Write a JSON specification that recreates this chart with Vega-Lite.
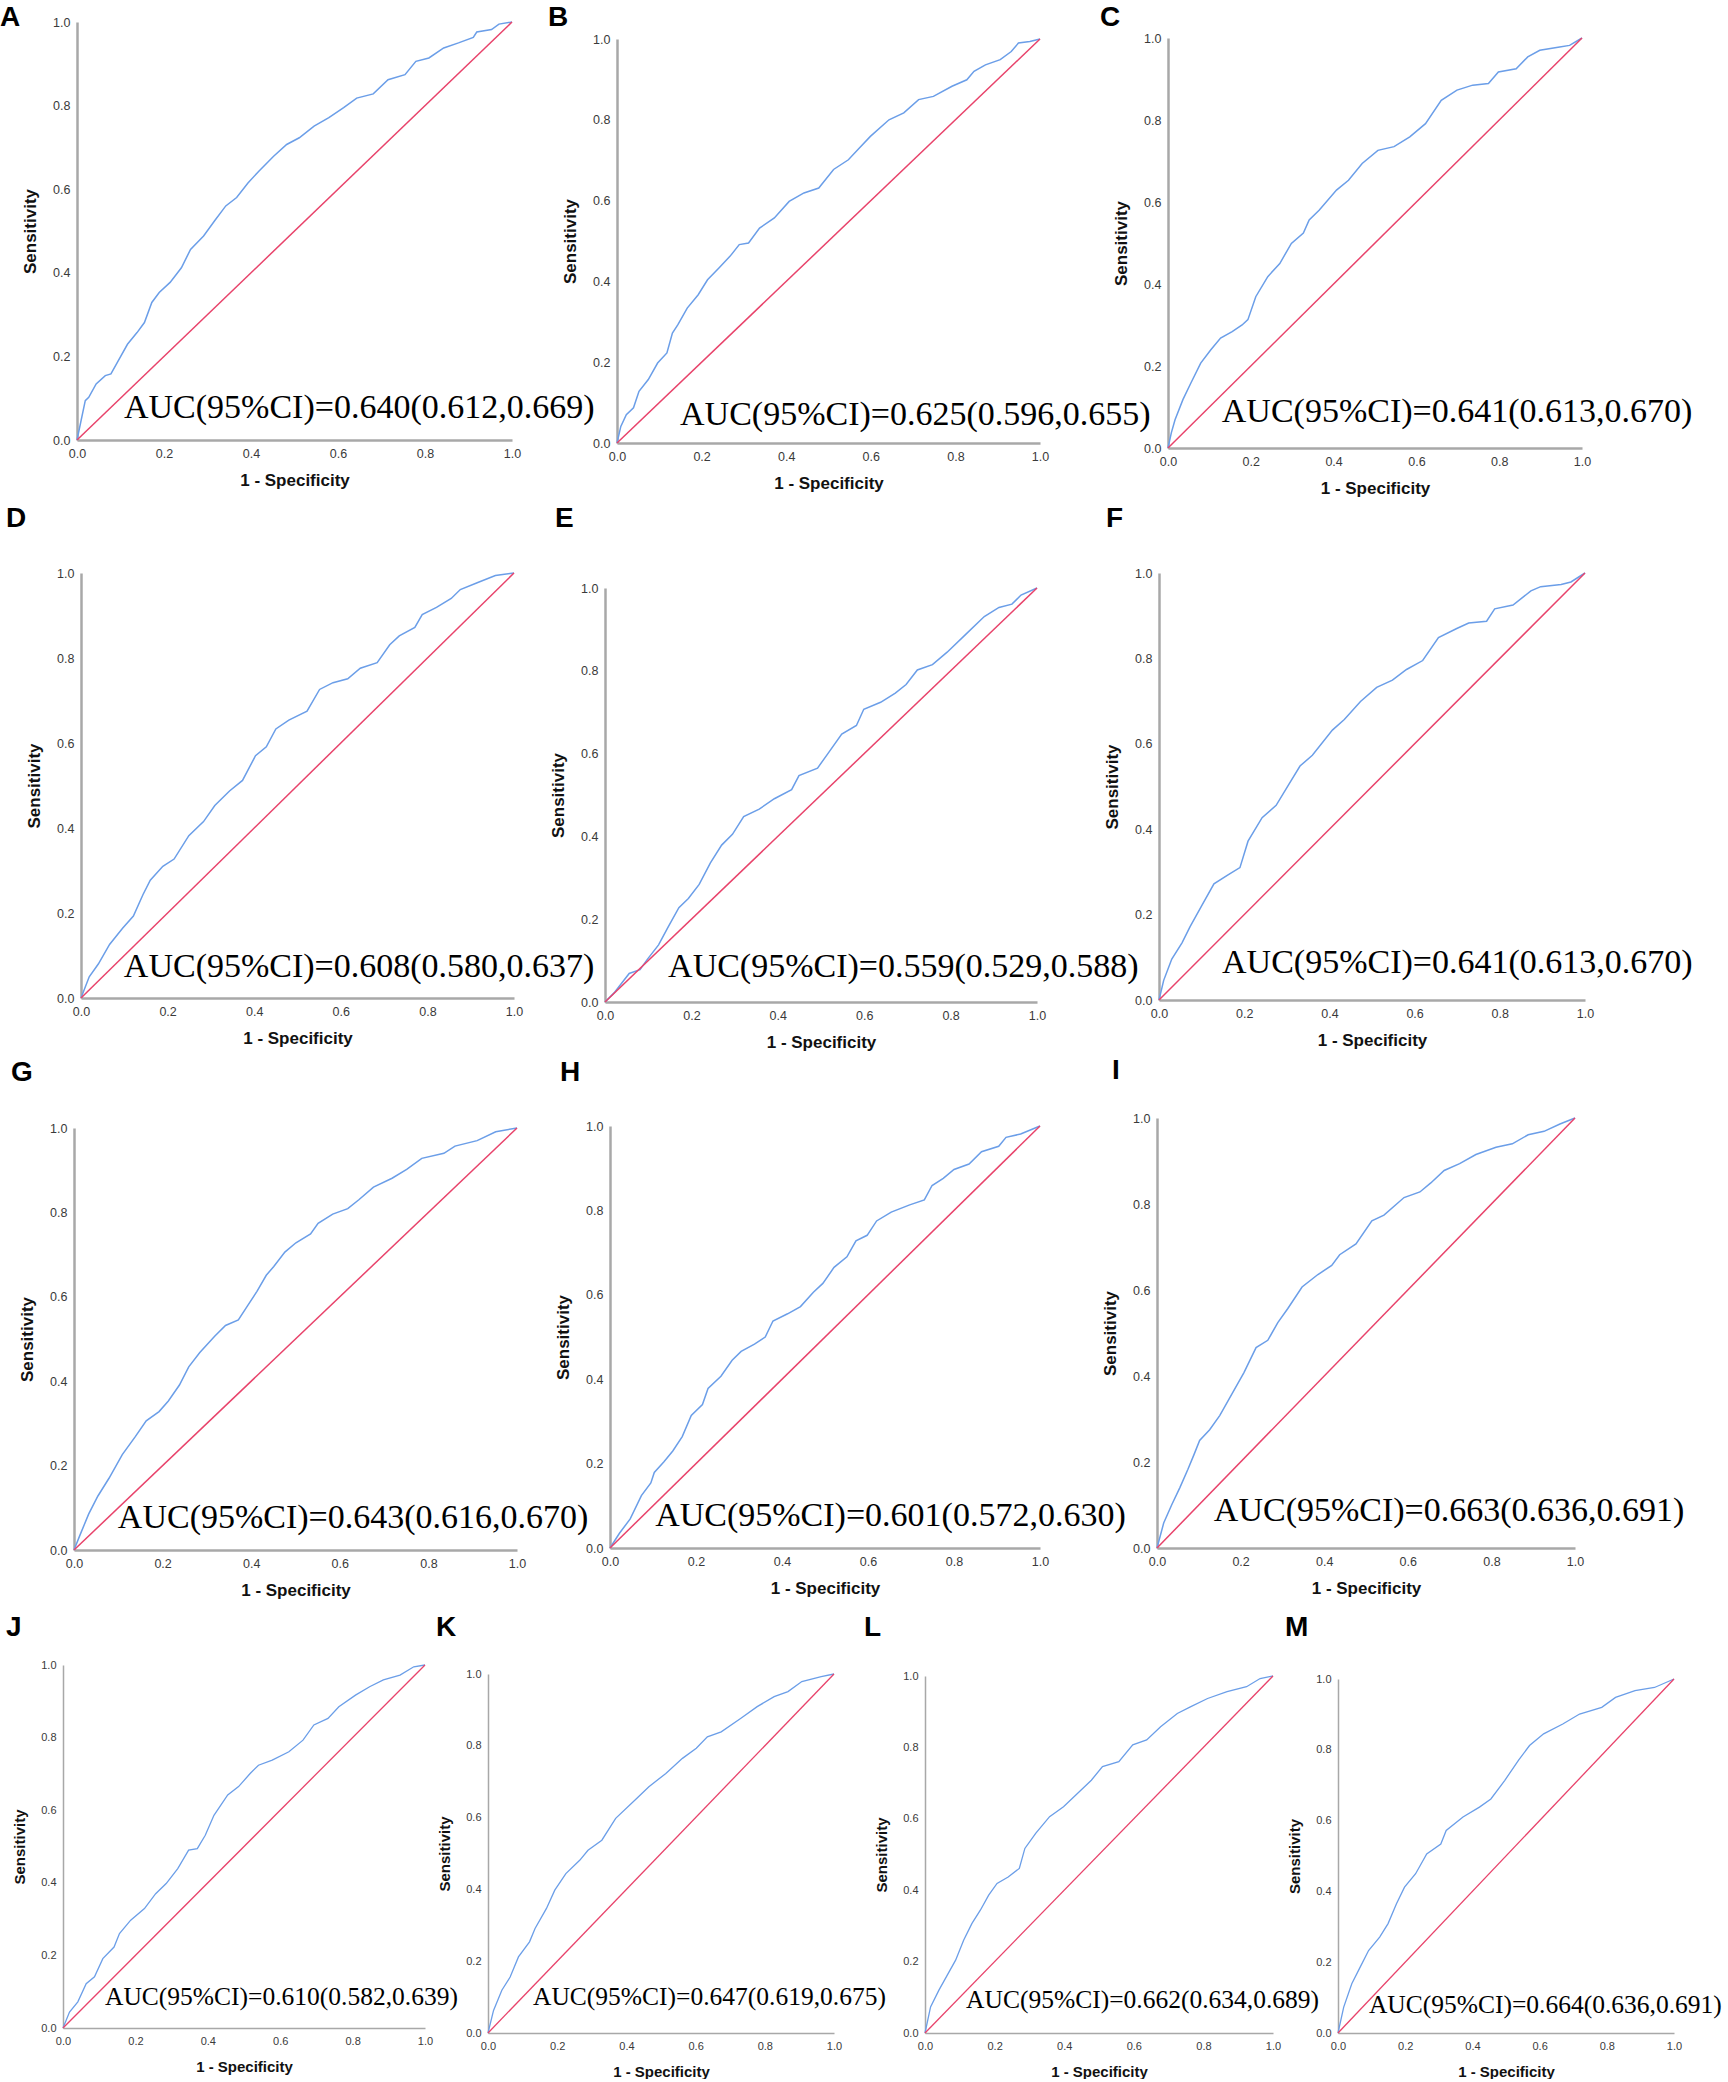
{
"$schema": "https://vega.github.io/schema/vega-lite/v6.json",
"padding": 0,
"autosize": {"type": "pad"},
"background": "white",
"columns": 4,
"spacing": 0,
"bounds": "flush",
"align": "each",
"config": {
  "view": {"stroke": null},
  "axis": {"grid": false, "ticks": false, "tickSize": 0, "domainColor": "#a8a8a8", "domainWidth": 2.5, "labelFont": "Liberation Sans", "labelFontSize": 12.5, "labelColor": "#3a3a3a", "labelPadding": 7, "labelFlush": false, "labelOverlap": false, "titleFont": "Liberation Sans", "titleFontSize": 17, "titleFontWeight": "bold", "titleColor": "#111111", "titlePadding": 13},
  "title": {"anchor": "start", "frame": "group", "font": "Liberation Sans", "fontSize": 28, "fontWeight": "bold", "color": "#000000", "offset": 0}
},
"datasets": {
"auc": [
{"panel":"A","label":"AUC(95%CI)=0.640(0.612,0.669)"},
{"panel":"B","label":"AUC(95%CI)=0.625(0.596,0.655)"},
{"panel":"C","label":"AUC(95%CI)=0.641(0.613,0.670)"},
{"panel":"D","label":"AUC(95%CI)=0.608(0.580,0.637)"},
{"panel":"E","label":"AUC(95%CI)=0.559(0.529,0.588)"},
{"panel":"F","label":"AUC(95%CI)=0.641(0.613,0.670)"},
{"panel":"G","label":"AUC(95%CI)=0.643(0.616,0.670)"},
{"panel":"H","label":"AUC(95%CI)=0.601(0.572,0.630)"},
{"panel":"I","label":"AUC(95%CI)=0.663(0.636,0.691)"},
{"panel":"J","label":"AUC(95%CI)=0.610(0.582,0.639)"},
{"panel":"K","label":"AUC(95%CI)=0.647(0.619,0.675)"},
{"panel":"L","label":"AUC(95%CI)=0.662(0.634,0.689)"},
{"panel":"M","label":"AUC(95%CI)=0.664(0.636,0.691)"}
],
"roc": [
{"panel":"A","fpr":0,"tpr":0},{"panel":"A","fpr":0.019,"tpr":0.094},{"panel":"A","fpr":0.027,"tpr":0.102},{"panel":"A","fpr":0.044,"tpr":0.134},{"panel":"A","fpr":0.065,"tpr":0.154},{"panel":"A","fpr":0.078,"tpr":0.158},{"panel":"A","fpr":0.095,"tpr":0.19},{"panel":"A","fpr":0.116,"tpr":0.229},{"panel":"A","fpr":0.138,"tpr":0.257},{"panel":"A","fpr":0.155,"tpr":0.281},{"panel":"A","fpr":0.172,"tpr":0.329},{"panel":"A","fpr":0.189,"tpr":0.353},{"panel":"A","fpr":0.214,"tpr":0.377},{"panel":"A","fpr":0.24,"tpr":0.412},{"panel":"A","fpr":0.261,"tpr":0.456},{"panel":"A","fpr":0.291,"tpr":0.488},{"panel":"A","fpr":0.316,"tpr":0.524},{"panel":"A","fpr":0.342,"tpr":0.56},{"panel":"A","fpr":0.367,"tpr":0.58},{"panel":"A","fpr":0.393,"tpr":0.615},{"panel":"A","fpr":0.418,"tpr":0.643},{"panel":"A","fpr":0.452,"tpr":0.679},{"panel":"A","fpr":0.482,"tpr":0.707},{"panel":"A","fpr":0.511,"tpr":0.723},{"panel":"A","fpr":0.545,"tpr":0.751},{"panel":"A","fpr":0.579,"tpr":0.771},{"panel":"A","fpr":0.613,"tpr":0.795},{"panel":"A","fpr":0.643,"tpr":0.818},{"panel":"A","fpr":0.681,"tpr":0.828},{"panel":"A","fpr":0.715,"tpr":0.862},{"panel":"A","fpr":0.754,"tpr":0.874},{"panel":"A","fpr":0.779,"tpr":0.906},{"panel":"A","fpr":0.809,"tpr":0.914},{"panel":"A","fpr":0.843,"tpr":0.938},{"panel":"A","fpr":0.877,"tpr":0.95},{"panel":"A","fpr":0.911,"tpr":0.963},{"panel":"A","fpr":0.919,"tpr":0.976},{"panel":"A","fpr":0.953,"tpr":0.982},{"panel":"A","fpr":0.97,"tpr":0.995},{"panel":"A","fpr":1,"tpr":1},
{"panel":"B","fpr":0,"tpr":0},{"panel":"B","fpr":0.009,"tpr":0.041},{"panel":"B","fpr":0.022,"tpr":0.07},{"panel":"B","fpr":0.039,"tpr":0.087},{"panel":"B","fpr":0.052,"tpr":0.128},{"panel":"B","fpr":0.074,"tpr":0.157},{"panel":"B","fpr":0.096,"tpr":0.198},{"panel":"B","fpr":0.118,"tpr":0.223},{"panel":"B","fpr":0.131,"tpr":0.272},{"panel":"B","fpr":0.144,"tpr":0.293},{"panel":"B","fpr":0.166,"tpr":0.334},{"panel":"B","fpr":0.192,"tpr":0.367},{"panel":"B","fpr":0.214,"tpr":0.404},{"panel":"B","fpr":0.241,"tpr":0.433},{"panel":"B","fpr":0.267,"tpr":0.462},{"panel":"B","fpr":0.289,"tpr":0.491},{"panel":"B","fpr":0.311,"tpr":0.495},{"panel":"B","fpr":0.337,"tpr":0.532},{"panel":"B","fpr":0.372,"tpr":0.557},{"panel":"B","fpr":0.407,"tpr":0.598},{"panel":"B","fpr":0.442,"tpr":0.619},{"panel":"B","fpr":0.477,"tpr":0.631},{"panel":"B","fpr":0.512,"tpr":0.677},{"panel":"B","fpr":0.547,"tpr":0.701},{"panel":"B","fpr":0.573,"tpr":0.73},{"panel":"B","fpr":0.599,"tpr":0.759},{"panel":"B","fpr":0.643,"tpr":0.8},{"panel":"B","fpr":0.678,"tpr":0.817},{"panel":"B","fpr":0.713,"tpr":0.85},{"panel":"B","fpr":0.748,"tpr":0.858},{"panel":"B","fpr":0.792,"tpr":0.883},{"panel":"B","fpr":0.827,"tpr":0.899},{"panel":"B","fpr":0.844,"tpr":0.92},{"panel":"B","fpr":0.871,"tpr":0.936},{"panel":"B","fpr":0.906,"tpr":0.949},{"panel":"B","fpr":0.932,"tpr":0.969},{"panel":"B","fpr":0.949,"tpr":0.99},{"panel":"B","fpr":0.976,"tpr":0.994},{"panel":"B","fpr":1,"tpr":1},
{"panel":"C","fpr":0,"tpr":0},{"panel":"C","fpr":0.008,"tpr":0.037},{"panel":"C","fpr":0.017,"tpr":0.069},{"panel":"C","fpr":0.036,"tpr":0.118},{"panel":"C","fpr":0.055,"tpr":0.158},{"panel":"C","fpr":0.079,"tpr":0.207},{"panel":"C","fpr":0.103,"tpr":0.239},{"panel":"C","fpr":0.127,"tpr":0.268},{"panel":"C","fpr":0.155,"tpr":0.284},{"panel":"C","fpr":0.179,"tpr":0.3},{"panel":"C","fpr":0.193,"tpr":0.313},{"panel":"C","fpr":0.212,"tpr":0.369},{"panel":"C","fpr":0.241,"tpr":0.418},{"panel":"C","fpr":0.27,"tpr":0.45},{"panel":"C","fpr":0.298,"tpr":0.499},{"panel":"C","fpr":0.327,"tpr":0.524},{"panel":"C","fpr":0.341,"tpr":0.556},{"panel":"C","fpr":0.365,"tpr":0.58},{"panel":"C","fpr":0.407,"tpr":0.629},{"panel":"C","fpr":0.436,"tpr":0.653},{"panel":"C","fpr":0.469,"tpr":0.694},{"panel":"C","fpr":0.507,"tpr":0.726},{"panel":"C","fpr":0.546,"tpr":0.735},{"panel":"C","fpr":0.584,"tpr":0.759},{"panel":"C","fpr":0.622,"tpr":0.791},{"panel":"C","fpr":0.66,"tpr":0.848},{"panel":"C","fpr":0.698,"tpr":0.873},{"panel":"C","fpr":0.736,"tpr":0.885},{"panel":"C","fpr":0.774,"tpr":0.889},{"panel":"C","fpr":0.798,"tpr":0.917},{"panel":"C","fpr":0.841,"tpr":0.925},{"panel":"C","fpr":0.869,"tpr":0.954},{"panel":"C","fpr":0.898,"tpr":0.97},{"panel":"C","fpr":0.946,"tpr":0.978},{"panel":"C","fpr":0.97,"tpr":0.982},{"panel":"C","fpr":1,"tpr":1},
{"panel":"D","fpr":0,"tpr":0},{"panel":"D","fpr":0.019,"tpr":0.05},{"panel":"D","fpr":0.04,"tpr":0.08},{"panel":"D","fpr":0.066,"tpr":0.126},{"panel":"D","fpr":0.096,"tpr":0.164},{"panel":"D","fpr":0.121,"tpr":0.193},{"panel":"D","fpr":0.143,"tpr":0.243},{"panel":"D","fpr":0.16,"tpr":0.277},{"panel":"D","fpr":0.189,"tpr":0.31},{"panel":"D","fpr":0.215,"tpr":0.327},{"panel":"D","fpr":0.249,"tpr":0.382},{"panel":"D","fpr":0.283,"tpr":0.415},{"panel":"D","fpr":0.309,"tpr":0.453},{"panel":"D","fpr":0.343,"tpr":0.487},{"panel":"D","fpr":0.373,"tpr":0.512},{"panel":"D","fpr":0.403,"tpr":0.57},{"panel":"D","fpr":0.428,"tpr":0.591},{"panel":"D","fpr":0.45,"tpr":0.633},{"panel":"D","fpr":0.48,"tpr":0.654},{"panel":"D","fpr":0.522,"tpr":0.675},{"panel":"D","fpr":0.551,"tpr":0.726},{"panel":"D","fpr":0.582,"tpr":0.742},{"panel":"D","fpr":0.616,"tpr":0.751},{"panel":"D","fpr":0.645,"tpr":0.776},{"panel":"D","fpr":0.684,"tpr":0.789},{"panel":"D","fpr":0.713,"tpr":0.831},{"panel":"D","fpr":0.735,"tpr":0.852},{"panel":"D","fpr":0.771,"tpr":0.872},{"panel":"D","fpr":0.788,"tpr":0.902},{"panel":"D","fpr":0.821,"tpr":0.919},{"panel":"D","fpr":0.855,"tpr":0.94},{"panel":"D","fpr":0.876,"tpr":0.961},{"panel":"D","fpr":0.915,"tpr":0.977},{"panel":"D","fpr":0.957,"tpr":0.994},{"panel":"D","fpr":1,"tpr":1},
{"panel":"E","fpr":0,"tpr":0},{"panel":"E","fpr":0.021,"tpr":0.022},{"panel":"E","fpr":0.056,"tpr":0.069},{"panel":"E","fpr":0.081,"tpr":0.078},{"panel":"E","fpr":0.098,"tpr":0.103},{"panel":"E","fpr":0.124,"tpr":0.138},{"panel":"E","fpr":0.146,"tpr":0.181},{"panel":"E","fpr":0.171,"tpr":0.228},{"panel":"E","fpr":0.193,"tpr":0.25},{"panel":"E","fpr":0.218,"tpr":0.284},{"panel":"E","fpr":0.244,"tpr":0.336},{"panel":"E","fpr":0.27,"tpr":0.379},{"panel":"E","fpr":0.295,"tpr":0.405},{"panel":"E","fpr":0.321,"tpr":0.448},{"panel":"E","fpr":0.357,"tpr":0.466},{"panel":"E","fpr":0.392,"tpr":0.491},{"panel":"E","fpr":0.432,"tpr":0.513},{"panel":"E","fpr":0.449,"tpr":0.547},{"panel":"E","fpr":0.492,"tpr":0.565},{"panel":"E","fpr":0.518,"tpr":0.603},{"panel":"E","fpr":0.548,"tpr":0.647},{"panel":"E","fpr":0.582,"tpr":0.668},{"panel":"E","fpr":0.599,"tpr":0.707},{"panel":"E","fpr":0.638,"tpr":0.724},{"panel":"E","fpr":0.672,"tpr":0.746},{"panel":"E","fpr":0.697,"tpr":0.767},{"panel":"E","fpr":0.723,"tpr":0.802},{"panel":"E","fpr":0.758,"tpr":0.815},{"panel":"E","fpr":0.792,"tpr":0.845},{"panel":"E","fpr":0.835,"tpr":0.888},{"panel":"E","fpr":0.878,"tpr":0.931},{"panel":"E","fpr":0.912,"tpr":0.953},{"panel":"E","fpr":0.942,"tpr":0.961},{"panel":"E","fpr":0.963,"tpr":0.983},{"panel":"E","fpr":1,"tpr":1},
{"panel":"F","fpr":0,"tpr":0},{"panel":"F","fpr":0.011,"tpr":0.046},{"panel":"F","fpr":0.03,"tpr":0.096},{"panel":"F","fpr":0.054,"tpr":0.134},{"panel":"F","fpr":0.073,"tpr":0.172},{"panel":"F","fpr":0.101,"tpr":0.222},{"panel":"F","fpr":0.129,"tpr":0.272},{"panel":"F","fpr":0.162,"tpr":0.293},{"panel":"F","fpr":0.19,"tpr":0.31},{"panel":"F","fpr":0.209,"tpr":0.372},{"panel":"F","fpr":0.242,"tpr":0.427},{"panel":"F","fpr":0.275,"tpr":0.456},{"panel":"F","fpr":0.303,"tpr":0.502},{"panel":"F","fpr":0.331,"tpr":0.548},{"panel":"F","fpr":0.36,"tpr":0.573},{"panel":"F","fpr":0.407,"tpr":0.632},{"panel":"F","fpr":0.435,"tpr":0.657},{"panel":"F","fpr":0.473,"tpr":0.699},{"panel":"F","fpr":0.511,"tpr":0.732},{"panel":"F","fpr":0.548,"tpr":0.749},{"panel":"F","fpr":0.581,"tpr":0.774},{"panel":"F","fpr":0.619,"tpr":0.795},{"panel":"F","fpr":0.656,"tpr":0.849},{"panel":"F","fpr":0.699,"tpr":0.87},{"panel":"F","fpr":0.727,"tpr":0.883},{"panel":"F","fpr":0.769,"tpr":0.887},{"panel":"F","fpr":0.788,"tpr":0.916},{"panel":"F","fpr":0.831,"tpr":0.925},{"panel":"F","fpr":0.873,"tpr":0.958},{"panel":"F","fpr":0.896,"tpr":0.968},{"panel":"F","fpr":0.944,"tpr":0.973},{"panel":"F","fpr":0.967,"tpr":0.979},{"panel":"F","fpr":1,"tpr":1},
{"panel":"G","fpr":0,"tpr":0},{"panel":"G","fpr":0.013,"tpr":0.034},{"panel":"G","fpr":0.033,"tpr":0.085},{"panel":"G","fpr":0.054,"tpr":0.128},{"panel":"G","fpr":0.079,"tpr":0.17},{"panel":"G","fpr":0.109,"tpr":0.226},{"panel":"G","fpr":0.138,"tpr":0.268},{"panel":"G","fpr":0.163,"tpr":0.306},{"panel":"G","fpr":0.192,"tpr":0.328},{"panel":"G","fpr":0.213,"tpr":0.353},{"panel":"G","fpr":0.238,"tpr":0.391},{"panel":"G","fpr":0.259,"tpr":0.434},{"panel":"G","fpr":0.284,"tpr":0.468},{"panel":"G","fpr":0.317,"tpr":0.506},{"panel":"G","fpr":0.342,"tpr":0.532},{"panel":"G","fpr":0.371,"tpr":0.545},{"panel":"G","fpr":0.392,"tpr":0.579},{"panel":"G","fpr":0.413,"tpr":0.613},{"panel":"G","fpr":0.434,"tpr":0.651},{"panel":"G","fpr":0.451,"tpr":0.672},{"panel":"G","fpr":0.476,"tpr":0.706},{"panel":"G","fpr":0.501,"tpr":0.728},{"panel":"G","fpr":0.534,"tpr":0.749},{"panel":"G","fpr":0.551,"tpr":0.774},{"panel":"G","fpr":0.584,"tpr":0.796},{"panel":"G","fpr":0.618,"tpr":0.809},{"panel":"G","fpr":0.643,"tpr":0.83},{"panel":"G","fpr":0.676,"tpr":0.86},{"panel":"G","fpr":0.718,"tpr":0.881},{"panel":"G","fpr":0.751,"tpr":0.902},{"panel":"G","fpr":0.785,"tpr":0.928},{"panel":"G","fpr":0.835,"tpr":0.94},{"panel":"G","fpr":0.86,"tpr":0.957},{"panel":"G","fpr":0.91,"tpr":0.97},{"panel":"G","fpr":0.952,"tpr":0.991},{"panel":"G","fpr":1,"tpr":1},
{"panel":"H","fpr":0,"tpr":0},{"panel":"H","fpr":0.022,"tpr":0.035},{"panel":"H","fpr":0.047,"tpr":0.069},{"panel":"H","fpr":0.073,"tpr":0.124},{"panel":"H","fpr":0.095,"tpr":0.154},{"panel":"H","fpr":0.103,"tpr":0.179},{"panel":"H","fpr":0.125,"tpr":0.204},{"panel":"H","fpr":0.146,"tpr":0.23},{"panel":"H","fpr":0.168,"tpr":0.264},{"panel":"H","fpr":0.189,"tpr":0.314},{"panel":"H","fpr":0.215,"tpr":0.34},{"panel":"H","fpr":0.228,"tpr":0.378},{"panel":"H","fpr":0.258,"tpr":0.407},{"panel":"H","fpr":0.284,"tpr":0.445},{"panel":"H","fpr":0.305,"tpr":0.466},{"panel":"H","fpr":0.336,"tpr":0.483},{"panel":"H","fpr":0.361,"tpr":0.5},{"panel":"H","fpr":0.379,"tpr":0.538},{"panel":"H","fpr":0.413,"tpr":0.555},{"panel":"H","fpr":0.443,"tpr":0.572},{"panel":"H","fpr":0.473,"tpr":0.606},{"panel":"H","fpr":0.495,"tpr":0.627},{"panel":"H","fpr":0.521,"tpr":0.665},{"panel":"H","fpr":0.551,"tpr":0.69},{"panel":"H","fpr":0.572,"tpr":0.728},{"panel":"H","fpr":0.598,"tpr":0.741},{"panel":"H","fpr":0.62,"tpr":0.775},{"panel":"H","fpr":0.654,"tpr":0.796},{"panel":"H","fpr":0.697,"tpr":0.813},{"panel":"H","fpr":0.731,"tpr":0.825},{"panel":"H","fpr":0.749,"tpr":0.859},{"panel":"H","fpr":0.775,"tpr":0.876},{"panel":"H","fpr":0.8,"tpr":0.897},{"panel":"H","fpr":0.835,"tpr":0.91},{"panel":"H","fpr":0.864,"tpr":0.939},{"panel":"H","fpr":0.904,"tpr":0.952},{"panel":"H","fpr":0.921,"tpr":0.973},{"panel":"H","fpr":0.955,"tpr":0.981},{"panel":"H","fpr":1,"tpr":1},
{"panel":"I","fpr":0,"tpr":0},{"panel":"I","fpr":0.016,"tpr":0.058},{"panel":"I","fpr":0.035,"tpr":0.1},{"panel":"I","fpr":0.055,"tpr":0.141},{"panel":"I","fpr":0.074,"tpr":0.183},{"panel":"I","fpr":0.088,"tpr":0.216},{"panel":"I","fpr":0.102,"tpr":0.25},{"panel":"I","fpr":0.126,"tpr":0.275},{"panel":"I","fpr":0.15,"tpr":0.308},{"panel":"I","fpr":0.179,"tpr":0.358},{"panel":"I","fpr":0.208,"tpr":0.408},{"panel":"I","fpr":0.237,"tpr":0.466},{"panel":"I","fpr":0.265,"tpr":0.483},{"panel":"I","fpr":0.289,"tpr":0.524},{"panel":"I","fpr":0.313,"tpr":0.557},{"panel":"I","fpr":0.347,"tpr":0.607},{"panel":"I","fpr":0.385,"tpr":0.636},{"panel":"I","fpr":0.418,"tpr":0.657},{"panel":"I","fpr":0.437,"tpr":0.682},{"panel":"I","fpr":0.476,"tpr":0.707},{"panel":"I","fpr":0.514,"tpr":0.761},{"panel":"I","fpr":0.543,"tpr":0.774},{"panel":"I","fpr":0.591,"tpr":0.815},{"panel":"I","fpr":0.629,"tpr":0.828},{"panel":"I","fpr":0.655,"tpr":0.849},{"panel":"I","fpr":0.687,"tpr":0.878},{"panel":"I","fpr":0.724,"tpr":0.894},{"panel":"I","fpr":0.763,"tpr":0.915},{"panel":"I","fpr":0.811,"tpr":0.932},{"panel":"I","fpr":0.85,"tpr":0.94},{"panel":"I","fpr":0.888,"tpr":0.961},{"panel":"I","fpr":0.926,"tpr":0.969},{"panel":"I","fpr":0.964,"tpr":0.986},{"panel":"I","fpr":1,"tpr":1},
{"panel":"J","fpr":0,"tpr":0},{"panel":"J","fpr":0.018,"tpr":0.044},{"panel":"J","fpr":0.041,"tpr":0.072},{"panel":"J","fpr":0.064,"tpr":0.122},{"panel":"J","fpr":0.087,"tpr":0.141},{"panel":"J","fpr":0.11,"tpr":0.191},{"panel":"J","fpr":0.141,"tpr":0.223},{"panel":"J","fpr":0.156,"tpr":0.26},{"panel":"J","fpr":0.187,"tpr":0.297},{"panel":"J","fpr":0.225,"tpr":0.329},{"panel":"J","fpr":0.256,"tpr":0.37},{"panel":"J","fpr":0.285,"tpr":0.398},{"panel":"J","fpr":0.317,"tpr":0.439},{"panel":"J","fpr":0.347,"tpr":0.49},{"panel":"J","fpr":0.371,"tpr":0.494},{"panel":"J","fpr":0.393,"tpr":0.531},{"panel":"J","fpr":0.417,"tpr":0.586},{"panel":"J","fpr":0.455,"tpr":0.642},{"panel":"J","fpr":0.485,"tpr":0.665},{"panel":"J","fpr":0.517,"tpr":0.701},{"panel":"J","fpr":0.54,"tpr":0.724},{"panel":"J","fpr":0.578,"tpr":0.738},{"panel":"J","fpr":0.624,"tpr":0.761},{"panel":"J","fpr":0.663,"tpr":0.793},{"panel":"J","fpr":0.693,"tpr":0.835},{"panel":"J","fpr":0.732,"tpr":0.853},{"panel":"J","fpr":0.762,"tpr":0.885},{"panel":"J","fpr":0.808,"tpr":0.917},{"panel":"J","fpr":0.847,"tpr":0.94},{"panel":"J","fpr":0.885,"tpr":0.959},{"panel":"J","fpr":0.931,"tpr":0.972},{"panel":"J","fpr":0.969,"tpr":0.995},{"panel":"J","fpr":1,"tpr":1},
{"panel":"K","fpr":0,"tpr":0},{"panel":"K","fpr":0.016,"tpr":0.063},{"panel":"K","fpr":0.04,"tpr":0.119},{"panel":"K","fpr":0.064,"tpr":0.156},{"panel":"K","fpr":0.088,"tpr":0.212},{"panel":"K","fpr":0.12,"tpr":0.254},{"panel":"K","fpr":0.136,"tpr":0.291},{"panel":"K","fpr":0.169,"tpr":0.347},{"panel":"K","fpr":0.193,"tpr":0.398},{"panel":"K","fpr":0.225,"tpr":0.444},{"panel":"K","fpr":0.265,"tpr":0.481},{"panel":"K","fpr":0.289,"tpr":0.509},{"panel":"K","fpr":0.329,"tpr":0.537},{"panel":"K","fpr":0.369,"tpr":0.598},{"panel":"K","fpr":0.425,"tpr":0.649},{"panel":"K","fpr":0.465,"tpr":0.686},{"panel":"K","fpr":0.514,"tpr":0.723},{"panel":"K","fpr":0.562,"tpr":0.765},{"panel":"K","fpr":0.602,"tpr":0.793},{"panel":"K","fpr":0.634,"tpr":0.825},{"panel":"K","fpr":0.674,"tpr":0.839},{"panel":"K","fpr":0.73,"tpr":0.876},{"panel":"K","fpr":0.778,"tpr":0.909},{"panel":"K","fpr":0.827,"tpr":0.937},{"panel":"K","fpr":0.867,"tpr":0.951},{"panel":"K","fpr":0.907,"tpr":0.979},{"panel":"K","fpr":0.963,"tpr":0.993},{"panel":"K","fpr":1,"tpr":1},
{"panel":"L","fpr":0,"tpr":0},{"panel":"L","fpr":0.016,"tpr":0.073},{"panel":"L","fpr":0.04,"tpr":0.12},{"panel":"L","fpr":0.064,"tpr":0.162},{"panel":"L","fpr":0.088,"tpr":0.204},{"panel":"L","fpr":0.111,"tpr":0.26},{"panel":"L","fpr":0.135,"tpr":0.307},{"panel":"L","fpr":0.159,"tpr":0.344},{"panel":"L","fpr":0.183,"tpr":0.386},{"panel":"L","fpr":0.207,"tpr":0.419},{"panel":"L","fpr":0.239,"tpr":0.437},{"panel":"L","fpr":0.271,"tpr":0.461},{"panel":"L","fpr":0.287,"tpr":0.517},{"panel":"L","fpr":0.318,"tpr":0.559},{"panel":"L","fpr":0.358,"tpr":0.606},{"panel":"L","fpr":0.398,"tpr":0.634},{"panel":"L","fpr":0.438,"tpr":0.671},{"panel":"L","fpr":0.478,"tpr":0.708},{"panel":"L","fpr":0.51,"tpr":0.746},{"panel":"L","fpr":0.557,"tpr":0.76},{"panel":"L","fpr":0.597,"tpr":0.807},{"panel":"L","fpr":0.637,"tpr":0.821},{"panel":"L","fpr":0.677,"tpr":0.858},{"panel":"L","fpr":0.725,"tpr":0.895},{"panel":"L","fpr":0.764,"tpr":0.914},{"panel":"L","fpr":0.812,"tpr":0.937},{"panel":"L","fpr":0.868,"tpr":0.956},{"panel":"L","fpr":0.924,"tpr":0.97},{"panel":"L","fpr":0.963,"tpr":0.993},{"panel":"L","fpr":1,"tpr":1},
{"panel":"M","fpr":0,"tpr":0},{"panel":"M","fpr":0.017,"tpr":0.073},{"panel":"M","fpr":0.041,"tpr":0.139},{"panel":"M","fpr":0.066,"tpr":0.186},{"panel":"M","fpr":0.091,"tpr":0.233},{"panel":"M","fpr":0.124,"tpr":0.271},{"panel":"M","fpr":0.149,"tpr":0.309},{"panel":"M","fpr":0.174,"tpr":0.365},{"panel":"M","fpr":0.198,"tpr":0.412},{"panel":"M","fpr":0.231,"tpr":0.45},{"panel":"M","fpr":0.264,"tpr":0.506},{"panel":"M","fpr":0.306,"tpr":0.534},{"panel":"M","fpr":0.322,"tpr":0.572},{"panel":"M","fpr":0.372,"tpr":0.61},{"panel":"M","fpr":0.421,"tpr":0.638},{"panel":"M","fpr":0.455,"tpr":0.661},{"panel":"M","fpr":0.496,"tpr":0.713},{"panel":"M","fpr":0.537,"tpr":0.77},{"panel":"M","fpr":0.57,"tpr":0.812},{"panel":"M","fpr":0.612,"tpr":0.845},{"panel":"M","fpr":0.669,"tpr":0.873},{"panel":"M","fpr":0.719,"tpr":0.901},{"panel":"M","fpr":0.785,"tpr":0.92},{"panel":"M","fpr":0.826,"tpr":0.948},{"panel":"M","fpr":0.884,"tpr":0.967},{"panel":"M","fpr":0.942,"tpr":0.976},{"panel":"M","fpr":1,"tpr":1}
]
},
"concat": [
{"width":488,"height":440,"title":{"text":"A","dx":0,"dy":36},"layer":[
 {"data":{"name":"roc"},"transform":[{"filter":"datum.panel === 'A'"}],"mark":{"type":"line","color":"#6b9ee8","strokeWidth":1.5},"encoding":{"x":{"field":"fpr","type":"quantitative","scale":{"domain":[0,1],"range":[77,512],"nice":false},"axis":{"title":"1 - Specificity","values":[0,0.2,0.4,0.6,0.8,1],"format":".1f"}},"y":{"field":"tpr","type":"quantitative","scale":{"domain":[0,1],"range":[440,22],"nice":false},"axis":{"title":"Sensitivity","values":[0,0.2,0.4,0.6,0.8,1],"format":".1f","offset":-77}}}},
 {"data":{"values":[{"v":0},{"v":1}]},"mark":{"type":"line","color":"#e8436b","strokeWidth":1.5},"encoding":{"x":{"field":"v","type":"quantitative"},"y":{"field":"v","type":"quantitative"}}},
 {"data":{"name":"auc"},"transform":[{"filter":"datum.panel === 'A'"}],"mark":{"type":"text","font":"Liberation Serif","fontSize":34,"align":"left","baseline":"alphabetic","color":"#000000"},"encoding":{"x":{"datum":0.108,"type":"quantitative"},"y":{"datum":0.053,"type":"quantitative"},"text":{"field":"label"}}}
]},
{"width":437,"height":443,"title":{"text":"B","dx":60,"dy":36},"layer":[
 {"data":{"name":"roc"},"transform":[{"filter":"datum.panel === 'B'"}],"mark":{"type":"line","color":"#6b9ee8","strokeWidth":1.5},"encoding":{"x":{"field":"fpr","type":"quantitative","scale":{"domain":[0,1],"range":[129,552],"nice":false},"axis":{"title":"1 - Specificity","values":[0,0.2,0.4,0.6,0.8,1],"format":".1f"}},"y":{"field":"tpr","type":"quantitative","scale":{"domain":[0,1],"range":[443,39],"nice":false},"axis":{"title":"Sensitivity","values":[0,0.2,0.4,0.6,0.8,1],"format":".1f","offset":-129}}}},
 {"data":{"values":[{"v":0},{"v":1}]},"mark":{"type":"line","color":"#e8436b","strokeWidth":1.5},"encoding":{"x":{"field":"v","type":"quantitative"},"y":{"field":"v","type":"quantitative"}}},
 {"data":{"name":"auc"},"transform":[{"filter":"datum.panel === 'B'"}],"mark":{"type":"text","font":"Liberation Serif","fontSize":34,"align":"left","baseline":"alphabetic","color":"#000000"},"encoding":{"x":{"datum":0.149,"type":"quantitative"},"y":{"datum":0.045,"type":"quantitative"},"text":{"field":"label"}}}
]},
{"width":413,"height":448,"title":{"text":"C","dx":175,"dy":36},"layer":[
 {"data":{"name":"roc"},"transform":[{"filter":"datum.panel === 'C'"}],"mark":{"type":"line","color":"#6b9ee8","strokeWidth":1.5},"encoding":{"x":{"field":"fpr","type":"quantitative","scale":{"domain":[0,1],"range":[243,657],"nice":false},"axis":{"title":"1 - Specificity","values":[0,0.2,0.4,0.6,0.8,1],"format":".1f"}},"y":{"field":"tpr","type":"quantitative","scale":{"domain":[0,1],"range":[448,38],"nice":false},"axis":{"title":"Sensitivity","values":[0,0.2,0.4,0.6,0.8,1],"format":".1f","offset":-243}}}},
 {"data":{"values":[{"v":0},{"v":1}]},"mark":{"type":"line","color":"#e8436b","strokeWidth":1.5},"encoding":{"x":{"field":"v","type":"quantitative"},"y":{"field":"v","type":"quantitative"}}},
 {"data":{"name":"auc"},"transform":[{"filter":"datum.panel === 'C'"}],"mark":{"type":"text","font":"Liberation Serif","fontSize":34,"align":"left","baseline":"alphabetic","color":"#000000"},"encoding":{"x":{"datum":0.130,"type":"quantitative"},"y":{"datum":0.063,"type":"quantitative"},"text":{"field":"label"}}}
]},
{"width":1,"height":1,"data":{"values":[]},"mark":"point"},
{"width":488,"height":550,"title":{"text":"D","dx":6,"dy":89},"layer":[
 {"data":{"name":"roc"},"transform":[{"filter":"datum.panel === 'D'"}],"mark":{"type":"line","color":"#6b9ee8","strokeWidth":1.5},"encoding":{"x":{"field":"fpr","type":"quantitative","scale":{"domain":[0,1],"range":[81,514],"nice":false},"axis":{"title":"1 - Specificity","values":[0,0.2,0.4,0.6,0.8,1],"format":".1f"}},"y":{"field":"tpr","type":"quantitative","scale":{"domain":[0,1],"range":[550,125],"nice":false},"axis":{"title":"Sensitivity","values":[0,0.2,0.4,0.6,0.8,1],"format":".1f","offset":-81}}}},
 {"data":{"values":[{"v":0},{"v":1}]},"mark":{"type":"line","color":"#e8436b","strokeWidth":1.5},"encoding":{"x":{"field":"v","type":"quantitative"},"y":{"field":"v","type":"quantitative"}}},
 {"data":{"name":"auc"},"transform":[{"filter":"datum.panel === 'D'"}],"mark":{"type":"text","font":"Liberation Serif","fontSize":34,"align":"left","baseline":"alphabetic","color":"#000000"},"encoding":{"x":{"datum":0.099,"type":"quantitative"},"y":{"datum":0.049,"type":"quantitative"},"text":{"field":"label"}}}
]},
{"width":437,"height":554,"title":{"text":"E","dx":67,"dy":89},"layer":[
 {"data":{"name":"roc"},"transform":[{"filter":"datum.panel === 'E'"}],"mark":{"type":"line","color":"#6b9ee8","strokeWidth":1.5},"encoding":{"x":{"field":"fpr","type":"quantitative","scale":{"domain":[0,1],"range":[117,549],"nice":false},"axis":{"title":"1 - Specificity","values":[0,0.2,0.4,0.6,0.8,1],"format":".1f"}},"y":{"field":"tpr","type":"quantitative","scale":{"domain":[0,1],"range":[554,140],"nice":false},"axis":{"title":"Sensitivity","values":[0,0.2,0.4,0.6,0.8,1],"format":".1f","offset":-117}}}},
 {"data":{"values":[{"v":0},{"v":1}]},"mark":{"type":"line","color":"#e8436b","strokeWidth":1.5},"encoding":{"x":{"field":"v","type":"quantitative"},"y":{"field":"v","type":"quantitative"}}},
 {"data":{"name":"auc"},"transform":[{"filter":"datum.panel === 'E'"}],"mark":{"type":"text","font":"Liberation Serif","fontSize":34,"align":"left","baseline":"alphabetic","color":"#000000"},"encoding":{"x":{"datum":0.146,"type":"quantitative"},"y":{"datum":0.060,"type":"quantitative"},"text":{"field":"label"}}}
]},
{"width":413,"height":552,"title":{"text":"F","dx":181,"dy":89},"layer":[
 {"data":{"name":"roc"},"transform":[{"filter":"datum.panel === 'F'"}],"mark":{"type":"line","color":"#6b9ee8","strokeWidth":1.5},"encoding":{"x":{"field":"fpr","type":"quantitative","scale":{"domain":[0,1],"range":[234,660],"nice":false},"axis":{"title":"1 - Specificity","values":[0,0.2,0.4,0.6,0.8,1],"format":".1f"}},"y":{"field":"tpr","type":"quantitative","scale":{"domain":[0,1],"range":[552,125],"nice":false},"axis":{"title":"Sensitivity","values":[0,0.2,0.4,0.6,0.8,1],"format":".1f","offset":-234}}}},
 {"data":{"values":[{"v":0},{"v":1}]},"mark":{"type":"line","color":"#e8436b","strokeWidth":1.5},"encoding":{"x":{"field":"v","type":"quantitative"},"y":{"field":"v","type":"quantitative"}}},
 {"data":{"name":"auc"},"transform":[{"filter":"datum.panel === 'F'"}],"mark":{"type":"text","font":"Liberation Serif","fontSize":34,"align":"left","baseline":"alphabetic","color":"#000000"},"encoding":{"x":{"datum":0.148,"type":"quantitative"},"y":{"datum":0.063,"type":"quantitative"},"text":{"field":"label"}}}
]},
{"width":1,"height":1,"data":{"values":[]},"mark":"point"},
{"width":488,"height":548,"title":{"text":"G","dx":11,"dy":89},"layer":[
 {"data":{"name":"roc"},"transform":[{"filter":"datum.panel === 'G'"}],"mark":{"type":"line","color":"#6b9ee8","strokeWidth":1.5},"encoding":{"x":{"field":"fpr","type":"quantitative","scale":{"domain":[0,1],"range":[74,517],"nice":false},"axis":{"title":"1 - Specificity","values":[0,0.2,0.4,0.6,0.8,1],"format":".1f"}},"y":{"field":"tpr","type":"quantitative","scale":{"domain":[0,1],"range":[548,126],"nice":false},"axis":{"title":"Sensitivity","values":[0,0.2,0.4,0.6,0.8,1],"format":".1f","offset":-74}}}},
 {"data":{"values":[{"v":0},{"v":1}]},"mark":{"type":"line","color":"#e8436b","strokeWidth":1.5},"encoding":{"x":{"field":"v","type":"quantitative"},"y":{"field":"v","type":"quantitative"}}},
 {"data":{"name":"auc"},"transform":[{"filter":"datum.panel === 'G'"}],"mark":{"type":"text","font":"Liberation Serif","fontSize":34,"align":"left","baseline":"alphabetic","color":"#000000"},"encoding":{"x":{"datum":0.099,"type":"quantitative"},"y":{"datum":0.052,"type":"quantitative"},"text":{"field":"label"}}}
]},
{"width":437,"height":546,"title":{"text":"H","dx":72,"dy":89},"layer":[
 {"data":{"name":"roc"},"transform":[{"filter":"datum.panel === 'H'"}],"mark":{"type":"line","color":"#6b9ee8","strokeWidth":1.5},"encoding":{"x":{"field":"fpr","type":"quantitative","scale":{"domain":[0,1],"range":[122,552],"nice":false},"axis":{"title":"1 - Specificity","values":[0,0.2,0.4,0.6,0.8,1],"format":".1f"}},"y":{"field":"tpr","type":"quantitative","scale":{"domain":[0,1],"range":[546,124],"nice":false},"axis":{"title":"Sensitivity","values":[0,0.2,0.4,0.6,0.8,1],"format":".1f","offset":-122}}}},
 {"data":{"values":[{"v":0},{"v":1}]},"mark":{"type":"line","color":"#e8436b","strokeWidth":1.5},"encoding":{"x":{"field":"v","type":"quantitative"},"y":{"field":"v","type":"quantitative"}}},
 {"data":{"name":"auc"},"transform":[{"filter":"datum.panel === 'H'"}],"mark":{"type":"text","font":"Liberation Serif","fontSize":34,"align":"left","baseline":"alphabetic","color":"#000000"},"encoding":{"x":{"datum":0.105,"type":"quantitative"},"y":{"datum":0.052,"type":"quantitative"},"text":{"field":"label"}}}
]},
{"width":413,"height":546,"title":{"text":"I","dx":187,"dy":87},"layer":[
 {"data":{"name":"roc"},"transform":[{"filter":"datum.panel === 'I'"}],"mark":{"type":"line","color":"#6b9ee8","strokeWidth":1.5},"encoding":{"x":{"field":"fpr","type":"quantitative","scale":{"domain":[0,1],"range":[232,650],"nice":false},"axis":{"title":"1 - Specificity","values":[0,0.2,0.4,0.6,0.8,1],"format":".1f"}},"y":{"field":"tpr","type":"quantitative","scale":{"domain":[0,1],"range":[546,116],"nice":false},"axis":{"title":"Sensitivity","values":[0,0.2,0.4,0.6,0.8,1],"format":".1f","offset":-232}}}},
 {"data":{"values":[{"v":0},{"v":1}]},"mark":{"type":"line","color":"#e8436b","strokeWidth":1.5},"encoding":{"x":{"field":"v","type":"quantitative"},"y":{"field":"v","type":"quantitative"}}},
 {"data":{"name":"auc"},"transform":[{"filter":"datum.panel === 'I'"}],"mark":{"type":"text","font":"Liberation Serif","fontSize":34,"align":"left","baseline":"alphabetic","color":"#000000"},"encoding":{"x":{"datum":0.136,"type":"quantitative"},"y":{"datum":0.063,"type":"quantitative"},"text":{"field":"label"}}}
]},
{"width":1,"height":1,"data":{"values":[]},"mark":"point"},
{"width":488,"height":478,"title":{"text":"J","dx":6,"dy":96},"layer":[
 {"data":{"name":"roc"},"transform":[{"filter":"datum.panel === 'J'"}],"mark":{"type":"line","color":"#6b9ee8","strokeWidth":1.3},"encoding":{"x":{"field":"fpr","type":"quantitative","scale":{"domain":[0,1],"range":[63,425],"nice":false},"axis":{"title":"1 - Specificity","values":[0,0.2,0.4,0.6,0.8,1],"format":".1f","labelFontSize":11,"titleFontSize":15,"domainWidth":1.5}},"y":{"field":"tpr","type":"quantitative","scale":{"domain":[0,1],"range":[478,115],"nice":false},"axis":{"title":"Sensitivity","values":[0,0.2,0.4,0.6,0.8,1],"format":".1f","offset":-63,"labelFontSize":11,"titleFontSize":15,"domainWidth":1.5}}}},
 {"data":{"values":[{"v":0},{"v":1}]},"mark":{"type":"line","color":"#e8436b","strokeWidth":1.3},"encoding":{"x":{"field":"v","type":"quantitative"},"y":{"field":"v","type":"quantitative"}}},
 {"data":{"name":"auc"},"transform":[{"filter":"datum.panel === 'J'"}],"mark":{"type":"text","font":"Liberation Serif","fontSize":25.5,"align":"left","baseline":"alphabetic","color":"#000000"},"encoding":{"x":{"datum":0.116,"type":"quantitative"},"y":{"datum":0.063,"type":"quantitative"},"text":{"field":"label"}}}
]},
{"width":437,"height":483,"title":{"text":"K","dx":-52,"dy":96},"layer":[
 {"data":{"name":"roc"},"transform":[{"filter":"datum.panel === 'K'"}],"mark":{"type":"line","color":"#6b9ee8","strokeWidth":1.3},"encoding":{"x":{"field":"fpr","type":"quantitative","scale":{"domain":[0,1],"range":[0,346],"nice":false},"axis":{"title":"1 - Specificity","values":[0,0.2,0.4,0.6,0.8,1],"format":".1f","labelFontSize":11,"titleFontSize":15,"domainWidth":1.5}},"y":{"field":"tpr","type":"quantitative","scale":{"domain":[0,1],"range":[483,124],"nice":false},"axis":{"title":"Sensitivity","values":[0,0.2,0.4,0.6,0.8,1],"format":".1f","labelFontSize":11,"titleFontSize":15,"domainWidth":1.5}}}},
 {"data":{"values":[{"v":0},{"v":1}]},"mark":{"type":"line","color":"#e8436b","strokeWidth":1.3},"encoding":{"x":{"field":"v","type":"quantitative"},"y":{"field":"v","type":"quantitative"}}},
 {"data":{"name":"auc"},"transform":[{"filter":"datum.panel === 'K'"}],"mark":{"type":"text","font":"Liberation Serif","fontSize":25.5,"align":"left","baseline":"alphabetic","color":"#000000"},"encoding":{"x":{"datum":0.130,"type":"quantitative"},"y":{"datum":0.078,"type":"quantitative"},"text":{"field":"label"}}}
]},
{"width":413,"height":483,"title":{"text":"L","dx":-61,"dy":96},"layer":[
 {"data":{"name":"roc"},"transform":[{"filter":"datum.panel === 'L'"}],"mark":{"type":"line","color":"#6b9ee8","strokeWidth":1.3},"encoding":{"x":{"field":"fpr","type":"quantitative","scale":{"domain":[0,1],"range":[0,348],"nice":false},"axis":{"title":"1 - Specificity","values":[0,0.2,0.4,0.6,0.8,1],"format":".1f","labelFontSize":11,"titleFontSize":15,"domainWidth":1.5}},"y":{"field":"tpr","type":"quantitative","scale":{"domain":[0,1],"range":[483,126],"nice":false},"axis":{"title":"Sensitivity","values":[0,0.2,0.4,0.6,0.8,1],"format":".1f","labelFontSize":11,"titleFontSize":15,"domainWidth":1.5}}}},
 {"data":{"values":[{"v":0},{"v":1}]},"mark":{"type":"line","color":"#e8436b","strokeWidth":1.3},"encoding":{"x":{"field":"v","type":"quantitative"},"y":{"field":"v","type":"quantitative"}}},
 {"data":{"name":"auc"},"transform":[{"filter":"datum.panel === 'L'"}],"mark":{"type":"text","font":"Liberation Serif","fontSize":25.5,"align":"left","baseline":"alphabetic","color":"#000000"},"encoding":{"x":{"datum":0.118,"type":"quantitative"},"y":{"datum":0.070,"type":"quantitative"},"text":{"field":"label"}}}
]},
{"width":336,"height":483,"title":{"text":"M","dx":-53,"dy":96},"layer":[
 {"data":{"name":"roc"},"transform":[{"filter":"datum.panel === 'M'"}],"mark":{"type":"line","color":"#6b9ee8","strokeWidth":1.3},"encoding":{"x":{"field":"fpr","type":"quantitative","scale":{"domain":[0,1],"range":[0,336],"nice":false},"axis":{"title":"1 - Specificity","values":[0,0.2,0.4,0.6,0.8,1],"format":".1f","labelFontSize":11,"titleFontSize":15,"domainWidth":1.5}},"y":{"field":"tpr","type":"quantitative","scale":{"domain":[0,1],"range":[483,129],"nice":false},"axis":{"title":"Sensitivity","values":[0,0.2,0.4,0.6,0.8,1],"format":".1f","labelFontSize":11,"titleFontSize":15,"domainWidth":1.5}}}},
 {"data":{"values":[{"v":0},{"v":1}]},"mark":{"type":"line","color":"#e8436b","strokeWidth":1.3},"encoding":{"x":{"field":"v","type":"quantitative"},"y":{"field":"v","type":"quantitative"}}},
 {"data":{"name":"auc"},"transform":[{"filter":"datum.panel === 'M'"}],"mark":{"type":"text","font":"Liberation Serif","fontSize":25.5,"align":"left","baseline":"alphabetic","color":"#000000"},"encoding":{"x":{"datum":0.092,"type":"quantitative"},"y":{"datum":0.056,"type":"quantitative"},"text":{"field":"label"}}}
]}
]
}
